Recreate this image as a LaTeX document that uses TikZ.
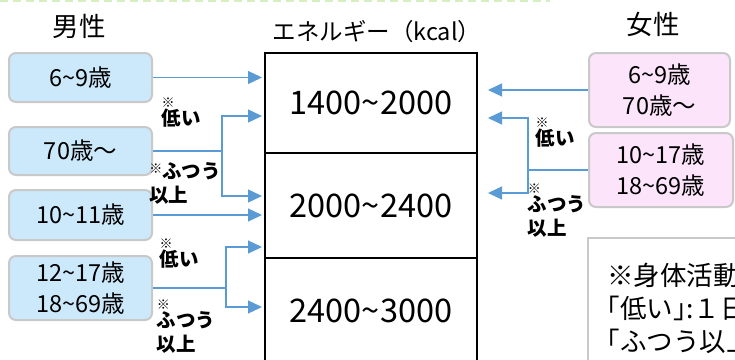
\documentclass[tikz,border=0pt]{standalone}
\usepackage{fontspec}
\setmainfont{Noto Sans CJK JP}
\usetikzlibrary{arrows.meta}
\definecolor{arrowblue}{HTML}{5B9BD5}
\definecolor{boxgray}{HTML}{C9C9C9}
\definecolor{malefill}{HTML}{CCE9FB}
\definecolor{femalefill}{HTML}{FCE4FA}
\definecolor{topgreen}{HTML}{D6EFC2}
\newcommand\til{\char`\~}
\newcommand\kome{{\fontsize{13}{13}\selectfont ※}}
\begin{document}
\begin{tikzpicture}[x=1pt,y=-1pt,
    agebox/.style={draw=boxgray,line width=2pt,rounded corners=7pt,inner sep=0pt,
      align=center,font=\fontsize{23.5}{31}\selectfont},
    male/.style={agebox,fill=malefill,minimum width=143pt},
    female/.style={agebox,fill=femalefill},
    band/.style={draw,line width=1.8pt,minimum width=212pt,inner sep=0pt,
      font=\fontsize{32.5}{32.5}\selectfont},
    link/.style={draw=arrowblue,line width=1.3pt,-{Triangle[length=14pt,width=13pt]}},
    remark/.style={font=\bfseries\fontsize{19.5}{24}\selectfont,align=left,inner sep=0pt},
    notebox/.style={draw=boxgray,line width=2pt,fill=white,text width=170pt,
      minimum height=140pt,align=left,inner xsep=19pt,
      font=\fontsize{26.5}{33}\selectfont}]
  \clip (0,0) rectangle (735,359);
  \draw[topgreen,line width=2pt,dash pattern=on 8pt off 5pt] (0,1) -- (550,1);
  % titles
  \path (79,26)  node[font=\fontsize{26.5}{26.5}\selectfont] (mtitle) {男性}
        (377,32) node[font=\fontsize{23.5}{23.5}\selectfont] (etitle) {エネルギー（kcal）}
        (653,24) node[font=\fontsize{26.5}{26.5}\selectfont] (ftitle) {女性};
  % energy ranges
  \path (371,103)   node[band,minimum height=100pt] (r1) {1400\til2000}
        (371,205.5) node[band,minimum height=105pt] (r2) {2000\til2400}
        (371,310.5) node[band,minimum height=105pt] (r3) {2400\til3000};
  % male ages
  \path (80.5,77.5) node[male,minimum height=49pt] (m1) {6\til9歳}
        (80.5,151)  node[male,minimum height=48pt] (m2) {70歳〜}
        (80.5,215)  node[male,minimum height=50pt] (m3) {10\til11歳}
        (80.5,288)  node[male,minimum height=64pt] (m4) {12\til17歳\\18\til69歳};
  % female ages
  \path (659.5,90) node[female,minimum width=141pt,minimum height=74pt] (f1) {6\til9歳\\70歳〜}
        (661,170)  node[female,minimum width=144pt,minimum height=74pt] (f2) {10\til17歳\\18\til69歳};
  % arrow ends and branch points
  \coordinate (a1) at (262,77.5);
  \coordinate (a2) at (262,116);
  \coordinate (a3) at (262,196);
  \coordinate (a4) at (262,215);
  \coordinate (a5) at (262,247);
  \coordinate (a6) at (262,307);
  \coordinate (j1) at (222,151);
  \coordinate (j2) at (226,288);
  \coordinate (b1) at (488,90);
  \coordinate (b2) at (488,118);
  \coordinate (b3) at (488,193);
  \coordinate (j3) at (528,170);
  \draw[link] (m1) -- (a1);
  \draw[link] (m2) -- (j1) |- (a2);
  \draw[link] (j1) |- (a3);
  \draw[link] (m3) -- (a4);
  \draw[link] (m4) -- (j2) |- (a5);
  \draw[link] (j2) |- (a6);
  \draw[link] (f1) -- (b1);
  \draw[link] (f2) -- (j3) |- (b2);
  \draw[link] (j3) |- (b3);
  % activity level labels
  \path (181,113) node[remark] (l1) {\kome\\[-6pt]低い}
        (185,183) node[remark] (l2) {\raisebox{5pt}{\kome}ふつう\\以上}
        (179,254) node[remark] (l3) {\kome\\[-6pt]低い}
        (186,327) node[remark] (l4) {\kome\\[-6pt]ふつう\\以上}
        (555,133) node[remark] (l5) {\kome\\[-6pt]低い}
        (557,211) node[remark] (l6) {\kome\\[-6pt]ふつう\\以上};
  % note
  \path (587,237) node[notebox,anchor=north west] (memo)
    {※身体活動\\{\addfontfeatures{RawFeature=+halt}「}低い{\addfontfeatures{RawFeature=+halt}」}:１日\\{\addfontfeatures{RawFeature=+halt}「}ふつう以上};
\end{tikzpicture}
\end{document}
